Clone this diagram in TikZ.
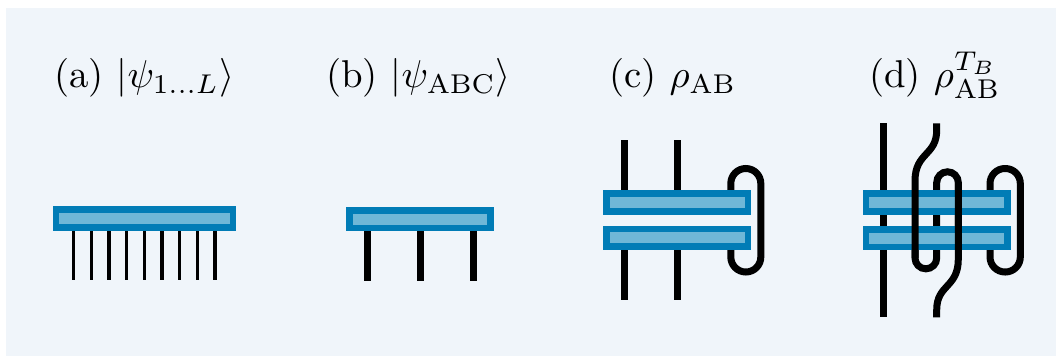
\documentclass[tikz,border=0pt]{standalone}
\usetikzlibrary{backgrounds}
\definecolor{panelbg}{HTML}{F0F5FA}
\definecolor{boxedge}{HTML}{017CB6}
\definecolor{boxfill}{HTML}{6FB7D7}
\tikzset{
  tensor/.style={draw=boxedge,fill=boxfill,line width=6.7pt,inner sep=0pt,minimum height=17.8pt,minimum width=#1},
  thinleg/.style={line width=3.5pt,black},
  leg/.style={line width=7pt,black},
  caption/.style={anchor=base west,scale=3.88,inner sep=0pt},
}
\begin{document}
\begin{tikzpicture}[x=1pt,y=-1pt]
\useasboundingbox (0,0) rectangle (1056,356);
% captions
\node[caption] (ta) at (53.5,87.5) {(a) $|\psi_{1\ldots L}\rangle$};
\node[caption] (tb) at (325.5,87.5) {(b) $|\psi_{\rm ABC}\rangle$};
\node[caption] (tc) at (608.5,87.5) {(c) $\rho_{\rm AB}$};
\node[caption] (td) at (868.5,87.5) {(d) $\rho_{\rm AB}^{T_B}$};
% tensors
\node[tensor=177pt] (A) at (144.4,218.4) {};
\node[tensor=141.3pt] (B) at (420,219.2) {};
\node[tensor=141.3pt] (C1) at (677.3,202.5) {};
\node[tensor=141.3pt] (C2) at (677.3,237.9) {};
\node[tensor=141.3pt] (D1) at (936.7,202.5) {};
\node[tensor=141.3pt] (D2) at (936.7,238.1) {};
% free ends
\foreach \i/\x in {1/73.7,2/91.35,3/109,4/126.7,5/144.4,6/162,7/179.7,8/197.4,9/215}
  \coordinate (a\i) at (\x,280);
\foreach \i/\x in {1/367,2/420,3/473}
  \coordinate (b\i) at (\x,281);
\coordinate (c1t) at (624.3,140.3);
\coordinate (c1b) at (624.3,300);
\coordinate (c2t) at (677.3,140.3);
\coordinate (c2b) at (677.3,300);
\coordinate (d1t) at (883.7,123.3);
\coordinate (d1b) at (883.7,317.3);
\coordinate (d2t) at (936.7,123.3);
\coordinate (d2b) at (936.7,317.3);
\begin{scope}[on background layer]
  \fill[panelbg] (6,8) rectangle (1056,356);
  \foreach \i in {1,...,9} \draw[thinleg] (a\i |- A.center) -- (a\i);
  \foreach \i in {1,2,3} \draw[leg] (b\i |- B.center) -- (b\i);
  \draw[leg] (c1t) -- (C1.center -| c1t);
  \draw[leg] (c2t) -- (C1.center -| c2t);
  \draw[leg] (C2.center -| c1b) -- (c1b);
  \draw[leg] (C2.center -| c2b) -- (c2b);
  \draw[leg] (d1t) -- (d1b);
  % loop in (c), ends hidden by the tensors
  \draw[leg,rounded corners=15pt] (730.8,202.5) -- (730.8,168.5) -- (760.8,168.5) -- (760.8,272) -- (730.8,272) -- (730.8,237.9);
  % right loop in (d)
  \draw[leg,rounded corners=15pt] (990,202.5) -- (990,168.5) -- (1020.3,168.5) -- (1020.3,272) -- (990,272) -- (990,238.1);
  % middle strand: U-turn, rise behind the tensors, arch
  \draw[leg,rounded corners=10.8pt] (915,240) -- (915,268.8) -- (936.7,268.8) -- (936.7,171.8) -- (958.3,171.8) -- (958.3,240);
\end{scope}
% strands of (d) that pass over the tensors
\draw[leg] (d2t) -- (936.7,130) .. controls (936.7,156) and (915,152) .. (915,181) -- (915,258);
\draw[leg] (d2b) -- (936.7,310) .. controls (936.7,284) and (958.3,288) .. (958.3,259) -- (958.3,183);
\end{tikzpicture}
\end{document}
